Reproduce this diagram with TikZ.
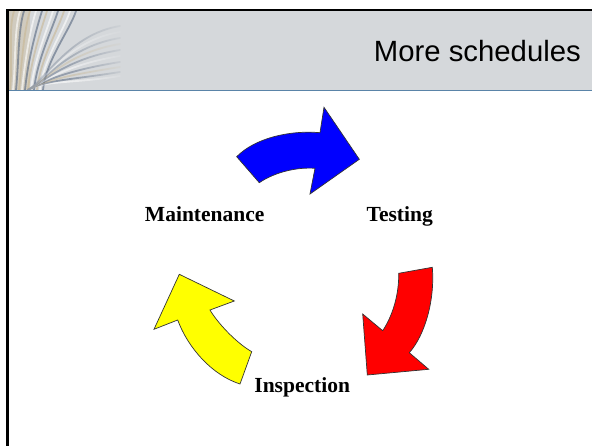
\documentclass[tikz,border=0pt]{standalone}
\usepackage{fontspec}
\usetikzlibrary{fadings}
\setmainfont{Liberation Serif}
\newfontfamily\titlefont{Liberation Sans}
\definecolor{hdrgray}{HTML}{D5D8DB}
\definecolor{hdrline}{HTML}{5A84A8}
\definecolor{pagebeige}{HTML}{C9B895}
\definecolor{pageblue}{HTML}{56667E}
\definecolor{arrblue}{HTML}{0000FF}
\definecolor{arrred}{HTML}{FF0000}
\definecolor{arryellow}{HTML}{FFFF00}
\tikzset{
  arrowshape/.style={draw=black!80, line width=0.7pt, line join=miter},
  lbl/.style={font=\fontsize{21.5}{24}\selectfont\bfseries, inner sep=0pt},
  page/.style={line width=1.8pt, line cap=round, opacity=0.6},
}
\begin{document}
\begin{tikzpicture}[x=1pt,y=-1pt]
\useasboundingbox (0,0) rectangle (592,446);
\fill[white] (0,0) rectangle (592,446);
% header band
\fill[hdrgray] (9,11) rectangle (592,90.5);
% book pages decoration
\begin{scope}
\clip (9,11) rectangle (130,90.5);
\fill[pagebeige!40!hdrgray] (9,11) rectangle (30,90.5);
\foreach \x/\t/\c in {10/14/pagebeige,13/20/white,16/24/pageblue,19/30/pagebeige,22/36/white,25/42/pageblue,28/47/pagebeige,31/53/white,34/58/pageblue,37/64/pagebeige,40/70/white,43/76/pageblue}{
  \draw[page,draw=\c] (\x,90) .. controls (\x+3,60) and (\t-6,30) .. (\t,11);
}
\foreach \yy/\c/\op in {84/white/0.6,80/pageblue/0.55,75/pagebeige/0.5,70/pageblue/0.5,64/white/0.5,58/pageblue/0.45,52/pagebeige/0.4,46/pageblue/0.35,40/white/0.35,34/pageblue/0.3}{
  \draw[page,draw=\c,opacity=\op] (28,90) .. controls (45,80) and (70,\yy) .. (120,\yy-8);
}
\fill[hdrgray, path fading=west] (70,11) rectangle (131,91);
\end{scope}
\draw[hdrline, line width=1.4pt] (9,90.5) -- (592,90.5);
% frame
\draw[black, line width=2.6pt] (7.5,446) -- (7.5,10) -- (592,10);
% title
\node[anchor=base east, inner sep=0pt, font=\titlefont\fontsize{29.3}{32}\selectfont] (title) at (581,62) {More schedules};
% arrows
\filldraw[arrowshape, fill=arrblue]
  (236.7,156.7) .. controls (255,138) and (290,130) .. (320,132.7)
  -- (324,107.3) -- (359.3,159.3) -- (310,194) -- (315,168.3)
  .. controls (297,167) and (275,172) .. (259.3,182.7) -- cycle;
\filldraw[arrowshape, fill=arrred]
  (432.3,267.3) .. controls (435,300) and (425,335) .. (409.3,352.7)
  -- (428.7,369.3) -- (367.3,375) -- (362.7,314) -- (382.7,330.7)
  .. controls (395,312) and (399,290) .. (398.7,273.3) -- cycle;
\filldraw[arrowshape, fill=arryellow]
  (240,384) -- (251.7,351.7)
  .. controls (235,342) and (217,322) .. (210,310)
  -- (234.3,301) -- (179.3,274.3) -- (154,329.3) -- (177.7,320)
  .. controls (188,348) and (212,375) .. cycle;
% labels
\node[lbl, anchor=base] (maint) at (204.7,221.7) {Maintenance};
\node[lbl, anchor=base] (test) at (399.7,221.7) {Testing};
\node[lbl, anchor=base] (insp) at (302.2,392.7) {Inspection};
\end{tikzpicture}
\end{document}
